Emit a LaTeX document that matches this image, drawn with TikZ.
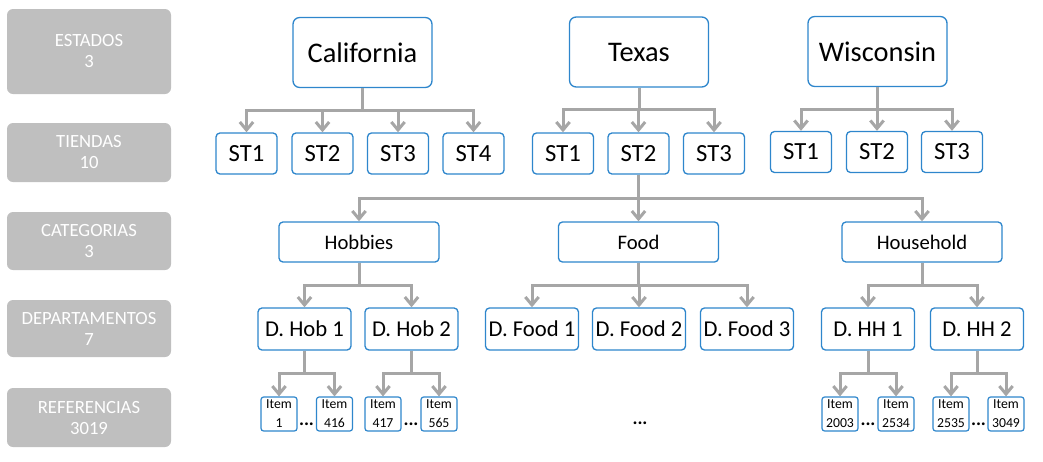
\documentclass[tikz,border=0pt]{standalone}
\usepackage{fontspec}
\setmainfont{Carlito}
\usetikzlibrary{arrows.meta}
\definecolor{boxblue}{RGB}{46,134,204}
\definecolor{lvlgray}{RGB}{191,191,191}
\definecolor{conngray}{RGB}{166,166,166}

\begin{document}
\begin{tikzpicture}[x=0.75pt,y=-0.75pt,
  levelbox/.style={fill=lvlgray, rounded corners=4.5pt, minimum width=123pt, inner sep=0,
    text=white, align=center, font=\fontsize{14}{15.75}\selectfont},
  bluebox/.style={draw=boxblue, line width=1pt, rounded corners=3pt, fill=white, inner sep=0, text=black},
  statebox/.style={bluebox, rounded corners=5pt, minimum width=104.25pt, minimum height=52.5pt,
    font=\fontsize{21.3}{24}\selectfont},
  storebox/.style={bluebox, minimum width=45.75pt, minimum height=30.75pt, font=\fontsize{18.5}{20}\selectfont},
  catbox/.style={bluebox, minimum width=120pt, minimum height=30pt, font=\fontsize{15.5}{18}\selectfont},
  deptbox/.style={bluebox, minimum width=69.75pt, minimum height=31.5pt, font=\fontsize{17}{18}\selectfont},
  itembox/.style={bluebox, line width=0.9pt, rounded corners=2pt, minimum width=27pt, minimum height=25.5pt,
    align=center, font=\fontsize{10.3}{14.25}\selectfont},
  moredots/.style={inner sep=0, font=\fontsize{14}{14}\selectfont\bfseries},
  conn/.style={conngray, line width=2.25pt, -{Straight Barb[length=6pt,width=10pt]}}]
\useasboundingbox (0,0) rectangle (1043,461);

% levels on the left
\node[levelbox, minimum height=63.75pt] (lvlest) at (89,51.5) {ESTADOS\\3};
\node[levelbox, minimum height=44.25pt] (lvltie) at (89,152.5) {TIENDAS\\10};
\node[levelbox, minimum height=43.5pt] (lvlcat) at (89,241) {CATEGORIAS\\3};
\node[levelbox, minimum height=42.75pt] (lvldep) at (89,328.5) {DEPARTAMENTOS\\7};
\node[levelbox, minimum height=44.25pt] (lvlref) at (89,417.5) {REFERENCIAS\\3019};

% states
\node[statebox] (cal) at (362.5,52.5) {California};
\node[statebox] (tex) at (639,52) {Texas};
\node[statebox] (wis) at (877.5,51.5) {Wisconsin};

% stores
\foreach \n/\x in {1/246.5, 2/322.5, 3/398, 4/473.5} {
 \node[storebox] (ca\n) at (\x,153.5) {ST\n};
 \draw[conn] (cal.south) -- ++(0,22) -| (ca\n.north);
}
\foreach \n/\x in {1/563, 2/638.5, 3/714} {
 \node[storebox] (tx\n) at (\x,153.5) {ST\n};
 \draw[conn] (tex.south) -- ++(0,22) -| (tx\n.north);
}
\foreach \n/\x in {1/801, 2/877, 3/952} {
 \node[storebox] (wi\n) at (\x,152) {ST\n};
 \draw[conn] (wis.south) -- ++(0,22) -| (wi\n.north);
}

% categories
\node[catbox] (hob) at (359,242) {Hobbies};
\node[catbox] (food) at (638.5,242) {Food};
\node[catbox] (hh) at (922,242) {Household};
\foreach \c in {hob, food, hh}
 \draw[conn] (tx2.south) -- ++(0,23.5) -| (\c.north);

% departments
\node[deptbox] (dhob1) at (304.5,329) {D. Hob 1};
\node[deptbox] (dhob2) at (411.5,329) {D. Hob 2};
\node[deptbox] (dfood1) at (532,329) {D. Food 1};
\node[deptbox] (dfood2) at (639,329) {D. Food 2};
\node[deptbox] (dfood3) at (747,329) {D. Food 3};
\node[deptbox] (dhh1) at (868,329) {D. HH 1};
\node[deptbox] (dhh2) at (977,329) {D. HH 2};
\foreach \d in {dhob1, dhob2}
 \draw[conn] (hob.south) -- ++(0,23) -| (\d.north);
\foreach \d in {dfood1, dfood2, dfood3}
 \draw[conn] (food.south) -- ++(0,23) -| (\d.north);
\foreach \d in {dhh1, dhh2}
 \draw[conn] (hh.south) -- ++(0,23) -| (\d.north);

% items
\foreach \d/\a/\xa/\b/\xb in {dhob1/1/279/416/334.5, dhob2/417/383/565/439,
                              dhh1/2003/840/2534/896, dhh2/2535/951/3049/1006} {
 \node[itembox] (it\a) at (\xa,414) {Item\\\a};
 \node[itembox] (it\b) at (\xb,414) {Item\\\b};
 \draw[conn] (\d.south) -- ++(0,23) -| (it\a.north);
 \draw[conn] (\d.south) -- ++(0,23) -| (it\b.north);
}
\node[moredots] (dots1) at (306.5,424) {...};
\node[moredots] (dots2) at (411,424) {...};
\node[moredots] (dots3) at (640,423) {...};
\node[moredots] (dots4) at (868,424) {...};
\node[moredots] (dots5) at (978.5,424) {...};
\end{tikzpicture}
\end{document}
